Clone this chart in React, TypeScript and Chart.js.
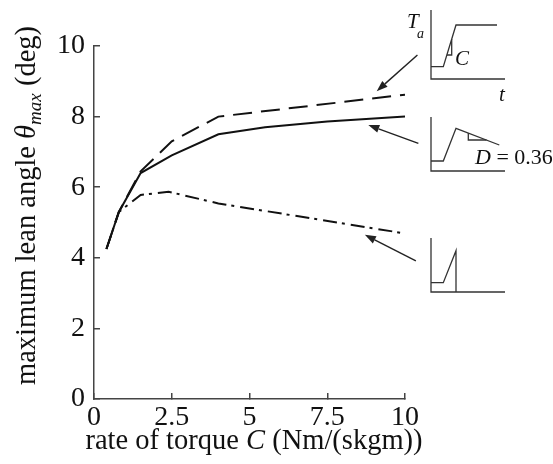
import React, { useEffect, useRef } from 'react';
import { Chart, registerables } from 'chart.js';
Chart.register(...registerables);

// ---- data ----
const solidRates = [0.4, 0.8, 1.5, 2.5, 4, 5.5, 7.5, 10];
const solidLean = [4.25, 5.3, 6.4, 6.9, 7.5, 7.7, 7.86, 8.0];
const dashedRates = [0.4, 0.8, 1.5, 2.5, 4, 10];
const dashedLean = [4.25, 5.3, 6.45, 7.3, 8.0, 8.62];
const dashDotRates = [0.4, 0.8, 1.5, 2.4, 4, 10];
const dashDotLean = [4.25, 5.3, 5.78, 5.87, 5.54, 4.69];
const xTickValues = [0, 2.5, 5, 7.5, 10];
const yTickValues = [0, 2, 4, 6, 8, 10];
// arrows pointing from the insets to the curves (data units)
const arrowTailX = [10.4, 10.43, 10.35];
const arrowTailY = [9.745, 7.24, 3.91];
const arrowHeadX = [9.09, 8.82, 8.71];
const arrowHeadY = [8.72, 7.76, 4.65];

const FAMILY = '"Liberation Serif", "Times New Roman", serif';
const INK = '#111';
const AXIS = '#444';
const TITLE_SIZE = 28.5;

function drawRich(ctx: CanvasRenderingContext2D, parts: { t: string; font: string; dy?: number }[], cx: number, baseline: number) {
  let total = 0;
  const widths = parts.map((p) => {
    ctx.font = p.font;
    const w = ctx.measureText(p.t).width;
    total += w;
    return w;
  });
  let x = cx - total / 2;
  ctx.textBaseline = 'alphabetic';
  ctx.textAlign = 'left';
  parts.forEach((p, i) => {
    ctx.font = p.font;
    ctx.fillText(p.t, x, baseline + (p.dy || 0));
    x += widths[i];
  });
}

const decorPlugin = {
  id: 'decor',
  afterDraw(chart: any) {
    const ctx: CanvasRenderingContext2D = chart.ctx;
    const area = chart.chartArea;
    const xs = chart.scales.x;
    const ys = chart.scales.y;
    ctx.save();
    ctx.fillStyle = INK;
    ctx.strokeStyle = INK;

    // x axis title
    drawRich(
      ctx,
      [
        { t: 'rate of torque ', font: `${TITLE_SIZE}px ${FAMILY}` },
        { t: 'C', font: `italic ${TITLE_SIZE}px ${FAMILY}` },
        { t: ' (Nm/(skgm))', font: `${TITLE_SIZE}px ${FAMILY}` },
      ],
      254,
      449
    );

    // y axis title (rotated)
    ctx.save();
    ctx.translate(35, 205.5);
    ctx.rotate(-Math.PI / 2);
    drawRich(
      ctx,
      [
        { t: 'maximum lean angle ', font: `${TITLE_SIZE}px ${FAMILY}` },
        { t: 'θ', font: `italic ${TITLE_SIZE}px ${FAMILY}` },
        { t: 'max', font: `italic 19px ${FAMILY}`, dy: 6 },
        { t: ' (deg)', font: `${TITLE_SIZE}px ${FAMILY}` },
      ],
      0,
      0
    );
    ctx.restore();

    // arrows
    ctx.strokeStyle = '#222';
    ctx.fillStyle = '#222';
    ctx.lineWidth = 1.4;
    for (let i = 0; i < arrowTailX.length; i++) {
      const x1 = xs.getPixelForValue(arrowTailX[i]);
      const y1 = ys.getPixelForValue(arrowTailY[i]);
      const x2 = xs.getPixelForValue(arrowHeadX[i]);
      const y2 = ys.getPixelForValue(arrowHeadY[i]);
      const ang = Math.atan2(y2 - y1, x2 - x1);
      const hl = 11, hw = 4;
      const bx = x2 - hl * Math.cos(ang);
      const by = y2 - hl * Math.sin(ang);
      ctx.beginPath();
      ctx.moveTo(x1, y1);
      ctx.lineTo(bx, by);
      ctx.stroke();
      ctx.beginPath();
      ctx.moveTo(x2, y2);
      ctx.lineTo(bx + hw * Math.sin(ang), by - hw * Math.cos(ang));
      ctx.lineTo(bx - hw * Math.sin(ang), by + hw * Math.cos(ang));
      ctx.closePath();
      ctx.fill();
    }

    // inset schematics of the torque profiles
    const ox = area.right + 26;
    const insetBottoms = [area.top + 33, area.top + 125, area.top + 246];
    const insetHeights = [69, 54, 54];
    const curves: number[][][] = [
      [[0, -12.3], [12.3, -12.3], [25, -54], [66, -54]],
      [[0, -10], [12.3, -10], [25, -42.7], [68.3, -26]],
      [[0, -9.3], [12.3, -9.3], [25, -41.3], [25, 0]],
    ];
    const slopeMarks: number[][][] = [
      [[15.9, -24], [20.7, -24], [20.7, -40]],
      [[37.3, -38], [37.3, -31], [55.5, -31]],
      [],
    ];
    ctx.strokeStyle = '#333';
    ctx.lineWidth = 1.3;
    insetBottoms.forEach((b, k) => {
      ctx.beginPath();
      ctx.moveTo(ox, b - insetHeights[k]);
      ctx.lineTo(ox, b);
      ctx.lineTo(ox + 74, b);
      ctx.stroke();
      ctx.beginPath();
      curves[k].forEach(([dx, dy], j) => (j ? ctx.lineTo(ox + dx, b + dy) : ctx.moveTo(ox + dx, b + dy)));
      ctx.stroke();
      if (slopeMarks[k].length) {
        ctx.beginPath();
        slopeMarks[k].forEach(([dx, dy], j) => (j ? ctx.lineTo(ox + dx, b + dy) : ctx.moveTo(ox + dx, b + dy)));
        ctx.stroke();
      }
    });

    // inset labels
    ctx.fillStyle = INK;
    ctx.textAlign = 'left';
    ctx.textBaseline = 'alphabetic';
    const b1 = insetBottoms[0];
    ctx.font = `italic 21px ${FAMILY}`;
    ctx.fillText('T', ox - 24, b1 - 51);
    ctx.font = `italic 14px ${FAMILY}`;
    ctx.fillText('a', ox - 14, b1 - 41);
    ctx.font = `italic 21px ${FAMILY}`;
    ctx.fillText('C', ox + 24, b1 - 14);
    ctx.fillText('t', ox + 68, b1 + 22);
    const b2 = insetBottoms[1];
    ctx.font = `italic 22px ${FAMILY}`;
    ctx.fillText('D', ox + 44, b2 - 7);
    const dw = ctx.measureText('D').width;
    ctx.font = `22px ${FAMILY}`;
    ctx.fillText(' = 0.36', ox + 44 + dw, b2 - 7);

    ctx.restore();
  },
};

export default function App() {
  const ref = useRef<HTMLCanvasElement>(null);
  useEffect(() => {
    const toPoints = (xs: number[], ys: number[]) => xs.map((x, i) => ({ x, y: ys[i] }));
    const tickFont = { family: FAMILY, size: 28 };
    const chart = new Chart(ref.current as HTMLCanvasElement, {
      type: 'scatter',
      data: {
        datasets: [
          { data: toPoints(dashedRates, dashedLean), showLine: true, borderColor: INK, borderWidth: 2, borderDash: [19, 9], pointRadius: 0 },
          { data: toPoints(solidRates, solidLean), showLine: true, borderColor: INK, borderWidth: 2, pointRadius: 0 },
          { data: toPoints(dashDotRates, dashDotLean), showLine: true, borderColor: INK, borderWidth: 2, borderDash: [14, 5, 3, 6], pointRadius: 0 },
        ],
      },
      options: {
        animation: false,
        responsive: false,
        events: [],
        layout: { padding: { top: 46, right: 148, left: 0, bottom: 0 } },
        plugins: { legend: { display: false }, tooltip: { enabled: false }, title: { display: false } },
        scales: {
          x: {
            type: 'linear',
            min: 0,
            max: 10,
            afterBuildTicks: (s: any) => {
              s.ticks = xTickValues.map((value) => ({ value }));
            },
            afterFit: (s: any) => {
              s.height = 65;
            },
            grid: { drawOnChartArea: false, tickLength: -6, color: AXIS, lineWidth: 1.5 },
            border: { color: AXIS, width: 1.5 },
            ticks: { font: tickFont, color: INK, padding: 8, maxRotation: 0, autoSkip: false, callback: (v: any) => String(v) },
          },
          y: {
            type: 'linear',
            min: 0,
            max: 10,
            afterBuildTicks: (s: any) => {
              s.ticks = yTickValues.map((value) => ({ value }));
            },
            afterFit: (s: any) => {
              s.width = 94;
            },
            grid: { drawOnChartArea: false, tickLength: -6, color: AXIS, lineWidth: 1.5 },
            border: { color: AXIS, width: 1.5 },
            ticks: { font: tickFont, color: INK, padding: 15, autoSkip: false, callback: (v: any) => String(v) },
          },
        },
      },
      plugins: [decorPlugin],
    });
    return () => chart.destroy();
  }, []);
  return (
    <div style={{ position: 'absolute', left: 0, top: 0, width: 553, height: 464, background: '#fff' }}>
      <canvas ref={ref} width={553} height={464} />
    </div>
  );
}
